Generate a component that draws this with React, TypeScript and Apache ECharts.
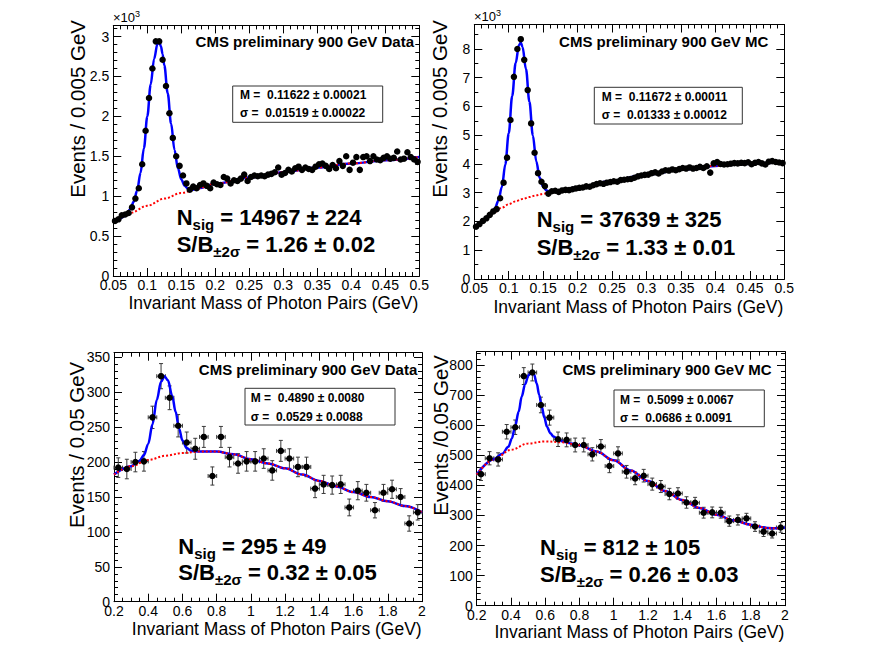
import React, { useEffect, useRef } from 'react';
import * as echarts from 'echarts';

const FONT = "'Liberation Sans', Arial, Helvetica, sans-serif";

// ---------- Panel 1: pi0, 900 GeV Data (x10^3 events / 0.005 GeV), bins from 0.05
const p1Lo = 0.05;
const p1Bin = 0.005;
const p1Counts = [
  0.69, 0.71, 0.76, 0.77, 0.79, 0.86, 0.97, 1.10, 1.40, 1.82, 2.23, 2.60, 2.94, 2.94, 2.71, 2.38, 2.04, 1.73, 1.50, 1.38, 1.26, 1.16,
  1.08, 1.12, 1.10, 1.14, 1.16, 1.13, 1.10, 1.17, 1.15, 1.14, 1.24, 1.22, 1.16, 1.20, 1.19, 1.22, 1.27, 1.19,
  1.24, 1.26, 1.25, 1.26, 1.25, 1.27, 1.28, 1.30, 1.36, 1.27,
  1.29, 1.33, 1.31, 1.35, 1.37, 1.33, 1.36, 1.34, 1.33, 1.37,
  1.40, 1.41, 1.38, 1.34, 1.39, 1.35, 1.44, 1.38, 1.50, 1.33,
  1.42, 1.49, 1.33, 1.49, 1.50, 1.44, 1.50, 1.46, 1.45, 1.48,
  1.50, 1.47, 1.48, 1.56, 1.46, 1.47, 1.55, 1.49, 1.46, 1.43,
];
const p1Bkg = [
  [0.05, 0.69], [0.075, 0.79], [0.1, 0.88], [0.125, 0.97], [0.15, 1.04], [0.175, 1.10], [0.2, 1.155],
  [0.25, 1.235], [0.3, 1.30], [0.35, 1.36], [0.4, 1.41], [0.45, 1.45], [0.5, 1.49],
];
const p1Peak = [
  [0.05, 0.69], [0.055, 0.705], [0.06, 0.72], [0.065, 0.745], [0.07, 0.78], [0.075, 0.84], [0.08, 0.93],
  [0.085, 1.07], [0.09, 1.29], [0.095, 1.6], [0.1, 2.0], [0.105, 2.4], [0.11, 2.72], [0.115, 2.91],
  [0.1175, 2.93], [0.12, 2.88], [0.1225, 2.78], [0.125, 2.64], [0.13, 2.29], [0.135, 1.91], [0.14, 1.58],
  [0.145, 1.35], [0.15, 1.21], [0.155, 1.13], [0.16, 1.09], [0.165, 1.08],
];

// ---------- Panel 2: pi0, 900 GeV MC
const p2Lo = 0.05;
const p2Bin = 0.005;
const p2Counts = [
  1.82, 1.91, 2.02, 2.11, 2.23, 2.35, 2.43, 2.81, 3.35, 4.22, 5.53, 7.03, 8.00, 8.34, 7.62, 6.57, 5.41, 4.39, 3.68, 3.38, 3.23,
  2.97, 3.05, 3.07, 3.03, 3.08, 3.10, 3.09, 3.12, 3.15,
  3.17, 3.18, 3.22, 3.21, 3.26, 3.30, 3.33, 3.31, 3.35, 3.37,
  3.40, 3.38, 3.44, 3.45, 3.47, 3.48, 3.52, 3.57, 3.60, 3.62,
  3.63, 3.68, 3.71, 3.67, 3.74, 3.78, 3.77, 3.81, 3.78, 3.82,
  3.86, 3.84, 3.88, 3.84, 3.86, 3.90, 3.86, 3.92, 3.70, 4.02,
  4.07, 4.00, 3.98, 3.99, 4.01, 4.03, 4.02, 4.04, 4.03, 4.06,
  3.99, 4.04, 4.07, 4.02, 3.98, 4.08, 4.10, 4.07, 4.05, 4.03,
];
const p2Bkg = [
  [0.05, 1.76], [0.06, 1.98], [0.07, 2.17], [0.08, 2.34], [0.09, 2.48], [0.1, 2.60], [0.11, 2.70],
  [0.12, 2.78], [0.13, 2.85], [0.14, 2.91], [0.15, 2.96], [0.16, 3.01], [0.18, 3.10], [0.2, 3.19],
  [0.25, 3.41], [0.3, 3.63], [0.35, 3.80], [0.4, 3.93], [0.45, 4.01], [0.5, 4.07],
];
const p2Peak = [
  [0.05, 1.76], [0.06, 1.98], [0.07, 2.18], [0.075, 2.30], [0.08, 2.46], [0.085, 2.73], [0.09, 3.20],
  [0.095, 3.98], [0.1, 5.07], [0.105, 6.36], [0.11, 7.51], [0.115, 8.15], [0.1175, 8.22], [0.12, 8.07],
  [0.125, 7.30], [0.13, 6.16], [0.135, 4.99], [0.14, 4.09], [0.145, 3.51], [0.15, 3.20], [0.155, 3.08],
  [0.16, 3.04], [0.165, 3.04],
];

// ---------- Panel 3: eta, 900 GeV Data (events / 0.05 GeV), bins from 0.2
const p3Lo = 0.2;
const p3Bin = 0.05;
const p3Counts = [
  192, 190, 200, 201, 264, 323, 292, 252, 228, 219, 236, 180, 236, 207, 198, 201, 201, 205,
  188, 216, 205, 193, 193, 162, 168, 167, 168, 135, 159, 156, 131, 156, 161, 150, 112, 128,
];
const p3Errors = [
  14, 14, 14, 14, 16, 18, 17, 16, 15, 15, 15, 13, 15, 14, 14, 14, 14, 14,
  14, 15, 14, 14, 14, 13, 13, 13, 13, 12, 13, 12, 11, 12, 13, 12, 11, 11,
];
const p3Bkg = [
  [0.2, 182], [0.3, 194], [0.4, 203], [0.5, 209], [0.6, 213], [0.7, 215], [0.8, 215], [0.9, 211],
  [1.0, 204], [1.1, 198], [1.2, 191], [1.3, 182], [1.4, 173], [1.5, 165], [1.6, 157], [1.7, 150],
  [1.8, 144], [1.9, 137], [2.0, 128],
];
const p3Peak = [
  [0.2, 182], [0.3, 194], [0.35, 202], [0.375, 210], [0.4, 226], [0.425, 254], [0.45, 289], [0.475, 315],
  [0.495, 323], [0.515, 317], [0.54, 295], [0.56, 272], [0.58, 248], [0.6, 231], [0.625, 220],
  [0.65, 216], [0.7, 215],
];

// ---------- Panel 4: eta, 900 GeV MC
const p4Lo = 0.2;
const p4Bin = 0.05;
const p4Counts = [
  437, 490, 486, 578, 593, 763, 775, 667, 625, 553, 551, 534, 534, 503, 529, 464, 506, 445,
  423, 432, 404, 396, 371, 373, 343, 342, 309, 310, 309, 281, 285, 290, 263, 246, 240, 260,
];
const p4Errors = [
  21, 22, 22, 24, 24, 28, 28, 26, 25, 24, 23, 23, 23, 22, 23, 22, 22, 21,
  21, 21, 20, 20, 19, 19, 19, 18, 18, 18, 18, 17, 17, 17, 16, 16, 15, 16,
];
const p4Bkg = [
  [0.2, 436], [0.3, 486], [0.4, 518], [0.5, 539], [0.6, 546], [0.7, 543], [0.8, 533], [0.9, 512],
  [1.0, 483], [1.1, 449], [1.2, 414], [1.3, 381], [1.4, 351], [1.5, 325], [1.6, 302], [1.7, 284],
  [1.8, 269], [1.9, 258], [1.95, 257], [2.0, 260],
];
const p4Peak = [
  [0.2, 436], [0.3, 487], [0.35, 505], [0.385, 528], [0.405, 555], [0.424, 595], [0.445, 645],
  [0.463, 695], [0.482, 735], [0.502, 765], [0.52, 779], [0.535, 768], [0.55, 739], [0.565, 700],
  [0.58, 661], [0.595, 625], [0.61, 595], [0.63, 573], [0.648, 562], [0.677, 553], [0.7, 546], [0.75, 539],
];

// ---------- texts
const titles = ['CMS preliminary 900 GeV Data', 'CMS preliminary 900 GeV MC', 'CMS preliminary 900 GeV Data', 'CMS preliminary 900 GeV MC'];
const massLines = [
  ['M =  0.11622 ± 0.00021', 'σ =  0.01519 ± 0.00022'],
  ['M =  0.11672 ± 0.00011', 'σ =  0.01333 ± 0.00012'],
  ['M =  0.4890 ± 0.0080', 'σ =  0.0529 ± 0.0088'],
  ['M =  0.5099 ± 0.0067', 'σ =  0.0686 ± 0.0091'],
];
const nsigTexts = ['= 14967 ± 224', '= 37639 ± 325', '= 295 ± 49', '= 812 ± 105'];
const sbTexts = ['= 1.26 ± 0.02', '= 1.33 ± 0.01', '= 0.32 ± 0.05', '= 0.26 ± 0.03'];
const xTitle = 'Invariant Mass of Photon Pairs (GeV)';
const yTitles = ['Events / 0.005 GeV', 'Events / 0.005 GeV', 'Events / 0.05 GeV', 'Events /0.05 GeV'];

function joinCurve(peak: number[][], bkg: number[][]) {
  const last = peak[peak.length - 1][0];
  return peak.concat(bkg.filter((p) => p[0] > last + 0.005));
}

function binned(lo: number, w: number, counts: number[]) {
  return counts.map((v, i) => [lo + (i + 0.5) * w, v]);
}

function buildOption() {
  const panels = [
    { grid: { left: 113.3, top: 25.4, width: 306, height: 250.6 }, xMin: 0.05, xMax: 0.5, xInt: 0.05, xMinor: 5, yMax: 3.14, yInt: 0.5, yMinor: 5,
      pts: binned(p1Lo, p1Bin, p1Counts), err: null as null | number[], w: p1Bin, fit: joinCurve(p1Peak, p1Bkg), bkg: p1Bkg },
    { grid: { left: 474.3, top: 24.5, width: 310, height: 254.5 }, xMin: 0.05, xMax: 0.5, xInt: 0.05, xMinor: 5, yMax: 8.85, yInt: 1, yMinor: 2,
      pts: binned(p2Lo, p2Bin, p2Counts), err: null as null | number[], w: p2Bin, fit: joinCurve(p2Peak, p2Bkg), bkg: p2Bkg },
    { grid: { left: 114, top: 352.7, width: 308, height: 249 }, xMin: 0.2, xMax: 2, xInt: 0.2, xMinor: 4, yMax: 356.6, yInt: 50, yMinor: 5,
      pts: binned(p3Lo, p3Bin, p3Counts), err: p3Errors, w: p3Bin, fit: joinCurve(p3Peak, p3Bkg), bkg: p3Bkg },
    { grid: { left: 476.7, top: 351.7, width: 308.3, height: 254 }, xMin: 0.2, xMax: 2, xInt: 0.2, xMinor: 4, yMax: 844, yInt: 100, yMinor: 5,
      pts: binned(p4Lo, p4Bin, p4Counts), err: p4Errors, w: p4Bin, fit: joinCurve(p4Peak, p4Bkg), bkg: p4Bkg },
  ];

  const grid: any[] = [];
  const xAxis: any[] = [];
  const yAxis: any[] = [];
  const series: any[] = [];

  const base = (extra: any) => ({
    type: 'value',
    splitLine: { show: false },
    axisLine: { show: true, onZero: false, lineStyle: { color: '#000', width: 1 } },
    axisTick: { show: true, inside: true, length: 8, lineStyle: { color: '#000', width: 1 } },
    minorTick: { show: true, length: 4, lineStyle: { color: '#000', width: 1 } },
    ...extra,
  });

  panels.forEach((p, k) => {
    grid.push({ ...p.grid, containLabel: false });
    const xl = { color: '#000', fontSize: 14, fontFamily: FONT, margin: 2 };
    xAxis.push(base({ gridIndex: k, position: 'bottom', min: p.xMin, max: p.xMax, interval: p.xInt,
      minorTick: { show: true, splitNumber: p.xMinor, length: 4, lineStyle: { color: '#000' } },
      axisLabel: { ...xl } }));
    xAxis.push(base({ gridIndex: k, position: 'top', min: p.xMin, max: p.xMax, interval: p.xInt,
      minorTick: { show: true, splitNumber: p.xMinor, length: 4, lineStyle: { color: '#000' } },
      axisLabel: { show: false } }));
    yAxis.push(base({ gridIndex: k, position: 'left', min: 0, max: p.yMax, interval: p.yInt,
      minorTick: { show: true, splitNumber: p.yMinor, length: 4, lineStyle: { color: '#000' } },
      axisLabel: { ...xl, margin: 4, showMaxLabel: false } }));
    yAxis.push(base({ gridIndex: k, position: 'right', min: 0, max: p.yMax, interval: p.yInt,
      minorTick: { show: true, splitNumber: p.yMinor, length: 4, lineStyle: { color: '#000' } },
      axisLabel: { show: false } }));

    const xi = 2 * k;
    const yi = 2 * k;
    if (p.err) {
      const errs = p.err;
      series.push({
        type: 'custom', xAxisIndex: xi, yAxisIndex: yi, z: 3, silent: true,
        data: p.pts.map((d, i) => [d[0], d[1], errs[i], p.w / 2]),
        renderItem: (params: any, api: any) => {
          const x = api.value(0), y = api.value(1), ey = api.value(2), ex = api.value(3);
          const c = api.coord([x, y]);
          const t = api.coord([x, y + ey]);
          const b = api.coord([x, y - ey]);
          const l = api.coord([x - ex, y]);
          const r = api.coord([x + ex, y]);
          const st = { stroke: '#3a3a3a', lineWidth: 1 };
          return {
            type: 'group',
            children: [
              { type: 'line', shape: { x1: c[0], y1: t[1], x2: c[0], y2: b[1] }, style: st },
              { type: 'line', shape: { x1: c[0] - 2, y1: t[1], x2: c[0] + 2, y2: t[1] }, style: st },
              { type: 'line', shape: { x1: c[0] - 2, y1: b[1], x2: c[0] + 2, y2: b[1] }, style: st },
              { type: 'line', shape: { x1: l[0], y1: c[1], x2: r[0], y2: c[1] }, style: st },
              { type: 'line', shape: { x1: l[0], y1: c[1] - 2, x2: l[0], y2: c[1] + 2 }, style: st },
              { type: 'line', shape: { x1: r[0], y1: c[1] - 2, x2: r[0], y2: c[1] + 2 }, style: st },
            ],
          };
        },
      });
    }
    series.push({
      type: 'line', xAxisIndex: xi, yAxisIndex: yi, data: p.fit, smooth: 0.35, smoothMonotone: 'x',
      showSymbol: false, symbol: 'none', z: 4, silent: true,
      lineStyle: { color: '#0000ff', width: 2.5 },
    });
    series.push({
      type: 'line', xAxisIndex: xi, yAxisIndex: yi, data: p.bkg, smooth: 0.35, smoothMonotone: 'x',
      showSymbol: false, symbol: 'none', z: 5, silent: true,
      lineStyle: { color: '#ff0000', width: 2, type: [2, 2] },
    });
    series.push({
      type: 'scatter', xAxisIndex: xi, yAxisIndex: yi, data: p.pts, symbol: 'circle', symbolSize: 6.5,
      itemStyle: { color: '#000', opacity: 1 }, z: 6, silent: true,
    });
  });

  // ---------- graphic texts
  const layout = [
    { title: [414, 41.7], box: [232.7, 86, 150, 36.3], lines: [240, 95, 113.3], big: [176.7, 217, 244], xt: [418.3, 303], yt: [77, 20], exp: [113, 17] },
    { title: [768.3, 41.7], box: [594.3, 87.3, 148, 36.7], lines: [601.7, 96.7, 115], big: [536.7, 219, 247], xt: [783.3, 307], yt: [439, 20], exp: [474, 16] },
    { title: [417.3, 369.3], box: [245, 388.3, 150, 36.7], lines: [250.7, 398.3, 416.7], big: [178.3, 546, 572], xt: [421.7, 629], yt: [76.7, 361.7], exp: null },
    { title: [771.7, 369.3], box: [614, 390, 150.3, 36.7], lines: [620, 400, 418.3], big: [540, 547, 574], xt: [784.3, 632], yt: [440, 355], exp: null },
  ];

  const graphic: any[] = [];
  const T = (x: number, y: number, text: string, s: any, extra: any = {}) => ({
    type: 'text', x, y, silent: true, z: 100, ...extra,
    style: { text, fill: '#000', fontFamily: FONT, ...s, textAlign: s.align, textVerticalAlign: s.verticalAlign },
  });

  layout.forEach((L, k) => {
    graphic.push(T(L.title[0], L.title[1], titles[k], { fontSize: 15, fontWeight: 'bold', align: 'right', verticalAlign: 'middle' }));
    graphic.push({
      type: 'rect', silent: true, z: 99,
      shape: { x: L.box[0], y: L.box[1], width: L.box[2], height: L.box[3] },
      style: { fill: '#fff', stroke: '#333', lineWidth: 1 },
    });
    graphic.push(T(L.lines[0], L.lines[1], massLines[k][0], { fontSize: 12, fontWeight: 'bold', align: 'left', verticalAlign: 'middle' }));
    graphic.push(T(L.lines[0], L.lines[2], massLines[k][1], { fontSize: 12, fontWeight: 'bold', align: 'left', verticalAlign: 'middle' }));
    const rich = {
      b: { fontSize: 22, fontWeight: 'bold', fontFamily: FONT, lineHeight: 30, fill: '#000' },
      s: { fontSize: 15, fontWeight: 'bold', fontFamily: FONT, lineHeight: 17, verticalAlign: 'bottom', fill: '#000' },
    };
    graphic.push(T(L.big[0], L.big[1], '{b|N}{s|sig}{b| ' + nsigTexts[k] + '}', { rich, align: 'left', verticalAlign: 'middle' }));
    graphic.push(T(L.big[0], L.big[2], '{b|S/B}{s|±2σ}{b| ' + sbTexts[k] + '}', { rich, align: 'left', verticalAlign: 'middle' }));
    graphic.push(T(L.xt[0], L.xt[1], xTitle, { fontSize: 17.5, align: 'right', verticalAlign: 'middle' }));
    graphic.push(T(L.yt[0], L.yt[1], yTitles[k], { fontSize: 20.5, align: 'right', verticalAlign: 'middle' }, { rotation: Math.PI / 2 }));
    if (L.exp) {
      graphic.push(T(L.exp[0], L.exp[1], '{a|×10}{e|3}', {
        align: 'left', verticalAlign: 'middle',
        rich: {
          a: { fontSize: 13, fontFamily: FONT, lineHeight: 16, fill: '#000' },
          e: { fontSize: 9, fontFamily: FONT, lineHeight: 9, verticalAlign: 'top', fill: '#000' },
        },
      }));
    }
  });

  return {
    animation: false,
    backgroundColor: '#fff',
    grid,
    xAxis,
    yAxis,
    series,
    graphic: { elements: graphic },
  };
}

export default function App() {
  const ref = useRef<HTMLDivElement>(null);
  useEffect(() => {
    if (!ref.current) return;
    const chart = echarts.init(ref.current, null, { renderer: 'svg' });
    chart.setOption(buildOption() as any);
    return () => chart.dispose();
  }, []);
  return (
    <div
      ref={ref}
      style={{ position: 'absolute', left: 0, top: 0, width: 872, height: 654, background: '#fff' }}
    />
  );
}
